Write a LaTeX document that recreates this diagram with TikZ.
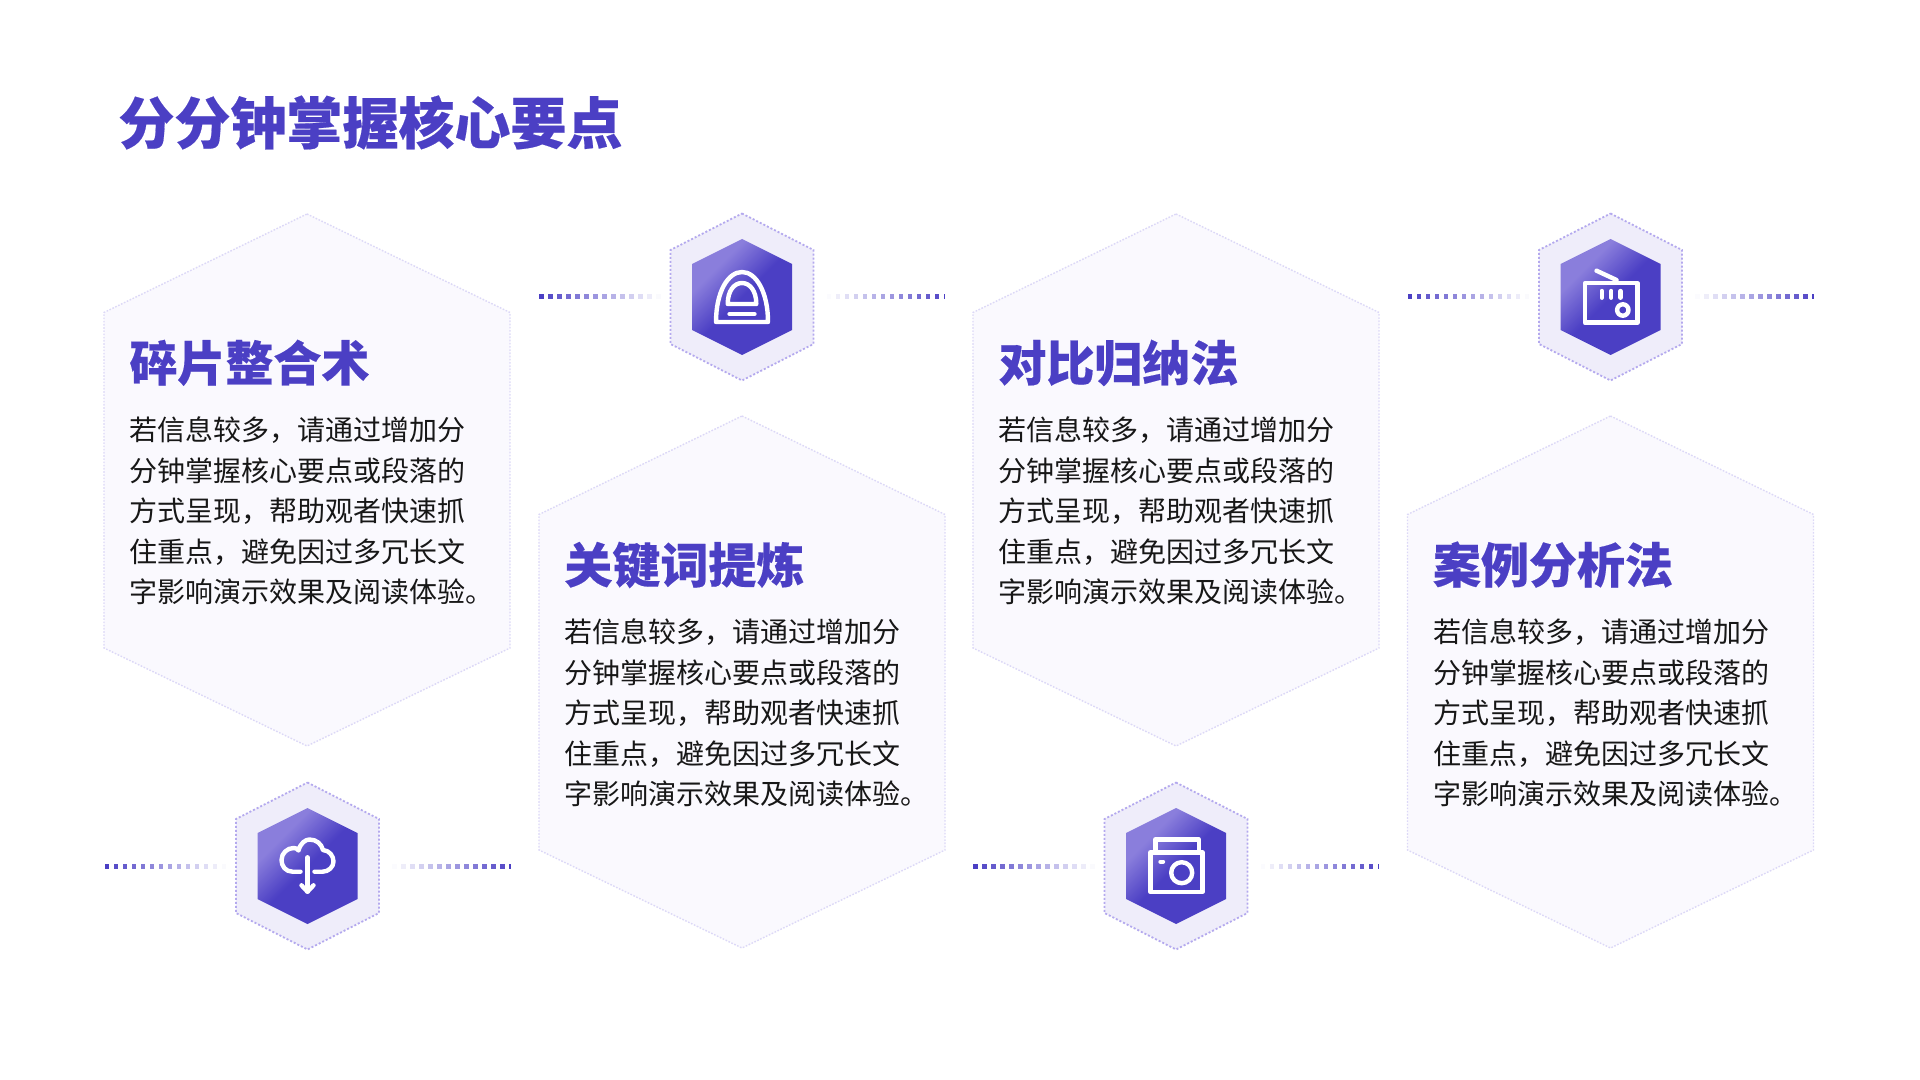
\documentclass[tikz,border=0pt]{standalone}
\usepackage{fontspec}
\setmainfont[BoldFeatures={FakeBold=0.35}]{Noto Sans CJK SC}
\usetikzlibrary{calc}
\definecolor{brand}{HTML}{4B3FC4}
\definecolor{brandlight}{HTML}{8A7EDC}
\definecolor{cardfill}{HTML}{FAF9FE}
\definecolor{carddot}{HTML}{DCD8F7}
\definecolor{iconfill}{HTML}{EFEDFA}
\definecolor{icondot}{HTML}{B4A9EE}
\definecolor{bodyink}{HTML}{171717}
\pgfdeclareverticalshading{hexgrad}{100bp}{color(0bp)=(brand); color(50bp)=(brand); color(68bp)=(brandlight); color(100bp)=(brandlight)}
\tikzset{
  px/.style={x=0.5pt,y=-0.5pt},
  cardshape/.style={fill=cardfill,draw=carddot,line width=0.7pt,dash pattern=on 0.8pt off 0.8pt},
  outerhex/.style={fill=iconfill,draw=icondot,line width=0.9pt,dash pattern=on 1pt off 1pt},
  headline/.style={inner sep=0pt,anchor=base west,text=brand,font=\fontsize{28}{34}\selectfont\bfseries},
  cardtitle/.style={inner sep=0pt,anchor=base west,text=brand,font=\fontsize{24}{30}\selectfont\bfseries},
  cardbody/.style={inner sep=0pt,anchor=north west,align=left,text=bodyink,font=\fontsize{14}{20.2}\selectfont},
  iconline/.style={draw=white,line width=2.2pt,line cap=round,line join=round},
}
\newcommand{\bodytext}{\rule{0pt}{14pt}若信息较多，请通过增加分\\分钟掌握核心要点或段落的\\方式呈现，帮助观者快速抓\\住重点，避免因过多冗长文\\字影响演示效果及阅读体验。}
% #1 name, #2 left x, #3 top y, #4 title
\newcommand{\infocard}[4]{
  \begin{scope}[shift={(#2,#3)}]
    \path[cardshape] (203,0) -- (406,98.5) -- (406,434) -- (203,532) -- (0,434) -- (0,98.5) -- cycle;
    \node[cardtitle] (#1title) at (25,167) {#4};
    \node[cardbody] (#1body) at (25.2,198.5) {\bodytext};
  \end{scope}
}
% #1 cx, #2 cy
\newcommand{\iconbase}[2]{
  \begin{scope}[shift={(#1,#2)}]
    \foreach \i in {0,...,13}{
      \pgfmathsetmacro{\fadeval}{100-\i*7.5}
      \fill[brand!\fadeval!white] ({-202.8+9*\i},-2.5) rectangle ++(4.5,5);
    }
    \foreach \i in {0,...,12}{
      \pgfmathsetmacro{\fadeval}{92-\i*7.5}
      \fill[brand!\fadeval!white] ({192.5-9*\i},-2.5) rectangle ++(4.5,5);
    }
    \fill[brand] (201.6,-2.5) rectangle ++(1.8,5);
    \path[outerhex] (0,-83.5) -- (71.5,-47) -- (71.5,47) -- (0,83.5) -- (-71.5,47) -- (-71.5,-47) -- cycle;
    \path[shading=hexgrad,shading angle=45] (0,-58) -- (50,-33) -- (50,33) -- (0,58) -- (-50,33) -- (-50,-33) -- cycle;
  \end{scope}
}
\begin{document}
\begin{tikzpicture}[px]
\useasboundingbox (0,0) rectangle (1920,1080);
\fill[white] (0,0) rectangle (1920,1080);
\node[headline] (heading) at (118,144) {分分钟掌握核心要点};

\infocard{a}{104}{214}{碎片整合术}
\infocard{b}{539}{416}{关键词提炼}
\infocard{c}{973}{214}{对比归纳法}
\infocard{d}{1407.5}{416}{案例分析法}

\iconbase{307.5}{866}
\iconbase{742}{297}
\iconbase{1176}{866}
\iconbase{1610.5}{297}

% dome
\begin{scope}[shift={(742,297)}]
  \draw[iconline] (-26,25) .. controls (-26,-5) and (-14,-25) .. (0,-25) .. controls (14,-25) and (26,-5) .. (26,25) -- cycle;
  \draw[iconline] (-14.3,7) .. controls (-14.3,-6) and (-8,-14) .. (0,-14) .. controls (8,-14) and (14.3,-6) .. (14.3,7) -- cycle;
  \draw[iconline] (-12.5,17) -- (12.5,17);
\end{scope}
% cloud
\begin{scope}[shift={(307.5,866)}]
  \draw[iconline] (-7,5.7) -- (-15,5.7) .. controls (-22,5.7) and (-26,0) .. (-26,-6) .. controls (-26,-13) and (-20,-18) .. (-14,-18) .. controls (-12,-18) and (-10,-17.5) .. (-9,-15.5) .. controls (-7,-23) and (-2,-26.5) .. (2,-26.5) .. controls (9,-26.5) and (14,-22) .. (15.5,-16) .. controls (22,-15.5) and (26,-10) .. (26,-4.5) .. controls (26,1) and (21,5.7) .. (15,5.7) -- (7,5.7);
  \draw[iconline] (0,-8.7) -- (0,25.7);
  \draw[iconline] (-6,19.3) -- (0,25.7) -- (6,19.3);
\end{scope}
% radio
\begin{scope}[shift={(1610.5,297)}]
  \draw[iconline] (-25.7,-13.7) rectangle (27,25.7);
  \draw[iconline] (-14,-26.3) -- (6,-17);
  \draw[iconline] (-8.7,-6) -- (-8.7,0.7);
  \draw[iconline] (0.7,-6) -- (0.7,0.7);
  \draw[iconline] (10,-6) -- (10,0.7);
  \draw[iconline] (12.3,13) circle[radius=5.7];
\end{scope}
% camera
\begin{scope}[shift={(1176,866)}]
  \draw[iconline] (-25.7,-13.7) rectangle (26.3,26);
  \draw[iconline] (-20.7,-13.7) -- (-20.7,-26.7) -- (22.7,-26.7) -- (22.7,-13.7);
  \draw[iconline] (5.7,6.7) circle[radius=10.5];
  \draw[iconline] (-15.5,-4.3) -- (-13,-4.3);
\end{scope}
\end{tikzpicture}
\end{document}
